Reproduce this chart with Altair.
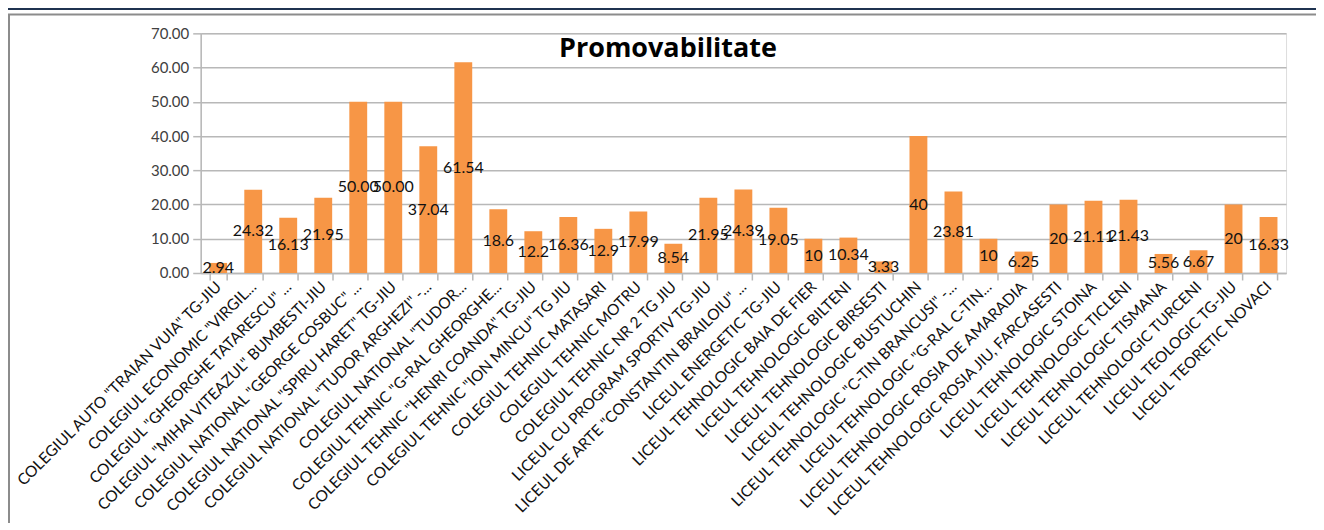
import altair as alt
import pandas as pd

schools = [
    'COLEGIUL AUTO "TRAIAN VUIA" TG-JIU',
    'COLEGIUL ECONOMIC "VIRGIL...',
    'COLEGIUL "GHEORGHE TATARESCU" ...',
    'COLEGIUL "MIHAI VITEAZUL" BUMBESTI-JIU',
    'COLEGIUL NATIONAL "GEORGE COSBUC" ...',
    'COLEGIUL NATIONAL "SPIRU HARET" TG-JIU',
    'COLEGIUL NATIONAL "TUDOR ARGHEZI" -...',
    'COLEGIUL NATIONAL "TUDOR...',
    'COLEGIUL TEHNIC "G-RAL GHEORGHE...',
    'COLEGIUL TEHNIC "HENRI COANDA" TG-JIU',
    'COLEGIUL TEHNIC "ION MINCU" TG JIU',
    'COLEGIUL TEHNIC MATASARI',
    'COLEGIUL TEHNIC MOTRU',
    'COLEGIUL TEHNIC NR 2 TG JIU',
    'LICEUL CU PROGRAM SPORTIV TG-JIU',
    'LICEUL DE ARTE "CONSTANTIN BRAILOIU" ...',
    'LICEUL ENERGETIC TG-JIU',
    'LICEUL TEHNOLOGIC BAIA DE FIER',
    'LICEUL TEHNOLOGIC BILTENI',
    'LICEUL TEHNOLOGIC BIRSESTI',
    'LICEUL TEHNOLOGIC BUSTUCHIN',
    'LICEUL TEHNOLOGIC "C-TIN BRANCUSI" -...',
    'LICEUL TEHNOLOGIC "G-RAL C-TIN...',
    'LICEUL TEHNOLOGIC ROSIA DE AMARADIA',
    'LICEUL TEHNOLOGIC ROSIA JIU, FARCASESTI',
    'LICEUL TEHNOLOGIC STOINA',
    'LICEUL TEHNOLOGIC TICLENI',
    'LICEUL TEHNOLOGIC TISMANA',
    'LICEUL TEHNOLOGIC TURCENI',
    'LICEUL TEOLOGIC TG-JIU',
    'LICEUL TEORETIC NOVACI',
]

values = [2.94, 24.32, 16.13, 21.95, 50.00, 50.00, 37.04, 61.54, 18.6, 12.2,
          16.36, 12.9, 17.99, 8.54, 21.95, 24.39, 19.05, 10, 10.34, 3.33,
          40, 23.81, 10, 6.25, 20, 21.11, 21.43, 5.56, 6.67, 20, 16.33]

value_labels = ["2.94", "24.32", "16.13", "21.95", "50.00", "50.00", "37.04", "61.54",
                "18.6", "12.2", "16.36", "12.9", "17.99", "8.54", "21.95", "24.39",
                "19.05", "10", "10.34", "3.33", "40", "23.81", "10", "6.25", "20",
                "21.11", "21.43", "5.56", "6.67", "20", "16.33"]

y_ticks = [0, 10, 20, 30, 40, 50, 60, 70]
title_text = "Promovabilitate"

df = pd.DataFrame({"school": schools, "value": values, "label": value_labels})

FONT = "Lato, Open Sans, sans-serif"
GRID = "#b8b8b8"

x_axis = alt.Axis(
    title=None,
    labelAngle=-45,
    labelAlign="right",
    labelBaseline="middle",
    labelFont=FONT,
    labelFontSize=15.5,
    labelColor="#111111",
    labelLimit=0,
    labelPadding=4,
    labelOverlap=False,
    tickBand="extent",
    tickSize=7,
    tickColor=GRID,
    tickWidth=1.5,
    domainColor=GRID,
    domainWidth=1.5,
    grid=False,
)
x_scale = alt.Scale(paddingInner=0.49, paddingOuter=0.245)

y_axis = alt.Axis(
    title=None,
    values=y_ticks,
    format=".2f",
    labelFont=FONT,
    labelFontSize=15,
    labelColor="#404040",
    labelPadding=4,
    labelOverlap=False,
    tickSize=8,
    tickColor=GRID,
    tickWidth=1.5,
    domainColor=GRID,
    domainWidth=1.5,
    gridColor=GRID,
    gridWidth=1.5,
)
y_scale = alt.Scale(domain=[0, 70], nice=False)

base = alt.Chart(df)

bars = base.mark_bar(color="#F79646").encode(
    x=alt.X("school:N", sort=schools, scale=x_scale, axis=x_axis),
    y=alt.Y("value:Q", scale=y_scale, axis=y_axis),
)

texts = base.transform_calculate(mid="datum.value / 2").mark_text(
    font=FONT, fontSize=16, color="#111111", baseline="middle", align="center"
).encode(
    x=alt.X("school:N", sort=schools, scale=x_scale, axis=x_axis),
    y=alt.Y("mid:Q", scale=y_scale, axis=y_axis),
    text="label:N",
)

deco = pd.DataFrame({"k": [0]})
top_dark = alt.Chart(deco).mark_rule(color="#1f3350", strokeWidth=2).encode(
    x=alt.value(-195), x2=alt.value(1125), y=alt.value(-24.5)
)
top_grey = alt.Chart(deco).mark_rule(color="#8c8c8c", strokeWidth=2).encode(
    x=alt.value(-193), x2=alt.value(1125), y=alt.value(-19)
)
left_grey = alt.Chart(deco).mark_rule(color="#8c8c8c", strokeWidth=2).encode(
    x=alt.value(-192), y=alt.value(-19), y2=alt.value(520)
)

title = alt.Chart(deco).mark_text(
    text=title_text, font="Open Sans", fontWeight="bold", fontSize=27,
    color="#000000", align="center", baseline="alphabetic"
).encode(x=alt.value(468), y=alt.value(24))

chart = alt.layer(bars, texts, top_dark, top_grey, left_grey, title).properties(
    width=1087,
    height=240,
    autosize=alt.AutoSizeParams(type="none"),
    padding={"left": 193, "top": 25, "right": 30, "bottom": 250},
).configure_view(stroke=None).configure(background="white")

chart.save("out.html", embed_options={"renderer": "svg", "actions": False})
